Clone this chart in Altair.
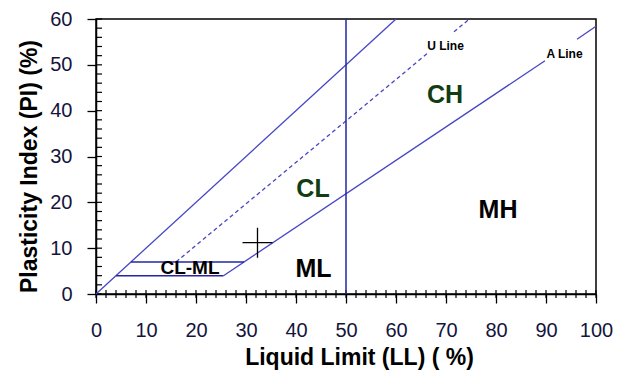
import altair as alt
import pandas as pd

# ---- data (LL %, PI %) ----
# solid diagonal boundaries: PI = LL line, and A line (split around its label)
solid_ll1 = [0, 25.5, 96.2]
solid_pi1 = [0, 4.0, 55.6]
solid_ll2 = [60, 89.8, 100]
solid_pi2 = [60, 50.9, 58.4]

# U line (dashed, split around its label)
u_ll1 = [16.0, 71.6]
u_pi1 = [7.0, 57.2]
u_ll2 = [66.4, 74.7]
u_pi2 = [52.6, 60.0]

# navy boundaries: LL = 50 vertical, CL-ML band at PI = 4 and PI = 7
nav_ll1 = [50, 4.0, 7.0]
nav_pi1 = [0, 4.0, 7.0]
nav_ll2 = [50, 25.5, 29.6]
nav_pi2 = [60, 4.0, 7.0]

# zone labels
zone_text = ["CH", "CL", "MH", "ML"]
zone_ll = [69.8, 43.4, 80.4, 43.5]
zone_pi = [43.4, 23.0, 18.3, 5.4]
zone_color = ["#123c12", "#123c12", "#000000", "#000000"]

small_text = ["CL-ML"]
small_ll = [18.8]
small_pi = [5.7]

line_text = ["U Line", "A Line"]
line_ll = [69.9, 93.7]
line_pi = [54.2, 52.3]

# plotted sample point
pt_ll = [32.3]
pt_pi = [11.2]

# tick positions
x_minor = list(range(0, 101, 2))
y_minor = list(range(0, 61, 2))
x_major = list(range(0, 101, 10))
y_major = list(range(0, 61, 10))

W, H = 500, 275
FONT = "Liberation Sans"

xs = alt.Scale(domain=[0, 100], nice=False, zero=False)
ys = alt.Scale(domain=[0, 60], nice=False, zero=False)

solid = pd.DataFrame({"x": solid_ll1, "y": solid_pi1, "x2": solid_ll2, "y2": solid_pi2})
udf = pd.DataFrame({"x": u_ll1, "y": u_pi1, "x2": u_ll2, "y2": u_pi2})
nav = pd.DataFrame({"x": nav_ll1, "y": nav_pi1, "x2": nav_ll2, "y2": nav_pi2})
zones = pd.DataFrame({"t": zone_text, "x": zone_ll, "y": zone_pi, "c": zone_color})
smalls = pd.DataFrame({"t": small_text, "x": small_ll, "y": small_pi})
ltxt = pd.DataFrame({"t": line_text, "x": line_ll, "y": line_pi})
pts = pd.DataFrame({"x": pt_ll, "y": pt_pi})
xm = pd.DataFrame({"v": x_minor})
ym = pd.DataFrame({"v": y_minor})

base_axes = alt.Chart(pd.DataFrame({"x": [0], "y": [0]})).mark_point(opacity=0).encode(
    x=alt.X("x:Q", scale=xs, axis=alt.Axis(
        title="Liquid Limit (LL) ( %)", values=x_major, tickSize=9, tickColor="#000000",
        tickWidth=1.3, domainColor="#000000", domainWidth=1.5, grid=False,
        labelFont=FONT, labelFontSize=20, labelColor="#14143c", labelPadding=17,
        titleFont=FONT, titleFontSize=23, titleFontWeight="bold", titleColor="#000000",
        titlePadding=6, titleX=263, labelFlush=False)),
    y=alt.Y("y:Q", scale=ys, axis=alt.Axis(
        title="Plasticity Index (PI) (%)", values=y_major, tickSize=9, tickColor="#000000",
        tickWidth=1.3, domainColor="#000000", domainWidth=1.5, grid=False,
        labelFont=FONT, labelFontSize=20, labelColor="#14143c", labelPadding=15,
        titleFont=FONT, titleFontSize=23, titleFontWeight="bold", titleColor="#000000",
        titlePadding=8, titleY=147, labelFlush=False)),
)

xticks = alt.Chart(xm).mark_rule(color="#000000", strokeWidth=1.2).encode(
    x=alt.X("v:Q", scale=xs), y=alt.value(H - 4), y2=alt.value(H + 4))
yticks = alt.Chart(ym).mark_rule(color="#000000", strokeWidth=1.2).encode(
    y=alt.Y("v:Q", scale=ys), x=alt.value(0), x2=alt.value(6))

solid_l = alt.Chart(solid).mark_rule(color="#4646c4", strokeWidth=1.3).encode(
    x=alt.X("x:Q", scale=xs), y=alt.Y("y:Q", scale=ys), x2="x2:Q", y2="y2:Q")
u_l = alt.Chart(udf).mark_rule(color="#4646c4", strokeWidth=1.3, strokeDash=[4, 3]).encode(
    x=alt.X("x:Q", scale=xs), y=alt.Y("y:Q", scale=ys), x2="x2:Q", y2="y2:Q")
nav_l = alt.Chart(nav).mark_rule(color="#2424a4", strokeWidth=1.5).encode(
    x=alt.X("x:Q", scale=xs), y=alt.Y("y:Q", scale=ys), x2="x2:Q", y2="y2:Q")

zone_t = alt.Chart(zones).mark_text(font=FONT, fontSize=25, fontWeight="bold").encode(
    x=alt.X("x:Q", scale=xs), y=alt.Y("y:Q", scale=ys), text="t:N",
    color=alt.Color("c:N", scale=None))
small_t = alt.Chart(smalls).mark_text(font=FONT, fontSize=19, fontWeight="bold", color="#000000").encode(
    x=alt.X("x:Q", scale=xs), y=alt.Y("y:Q", scale=ys), text="t:N")
line_t = alt.Chart(ltxt).mark_text(font=FONT, fontSize=12, fontWeight="bold", color="#000000").encode(
    x=alt.X("x:Q", scale=xs), y=alt.Y("y:Q", scale=ys), text="t:N")

cross = alt.Chart(pts).mark_point(shape="M-1,0L1,0M0,-1L0,1", size=900, filled=False,
                                  color="#000000", strokeWidth=1.3, opacity=1).encode(
    x=alt.X("x:Q", scale=xs), y=alt.Y("y:Q", scale=ys))

chart = alt.layer(base_axes, xticks, yticks, solid_l, u_l, nav_l, zone_t, small_t, line_t, cross).properties(
    width=W, height=H,
    autosize=alt.AutoSizeParams(type="none"),
    padding={"left": 88, "top": 11, "right": 20, "bottom": 76},
    background="#ffffff",
).configure_view(stroke="#000000", strokeWidth=1.5)

chart.save("out.html", embed_options={"renderer": "svg", "actions": False})
